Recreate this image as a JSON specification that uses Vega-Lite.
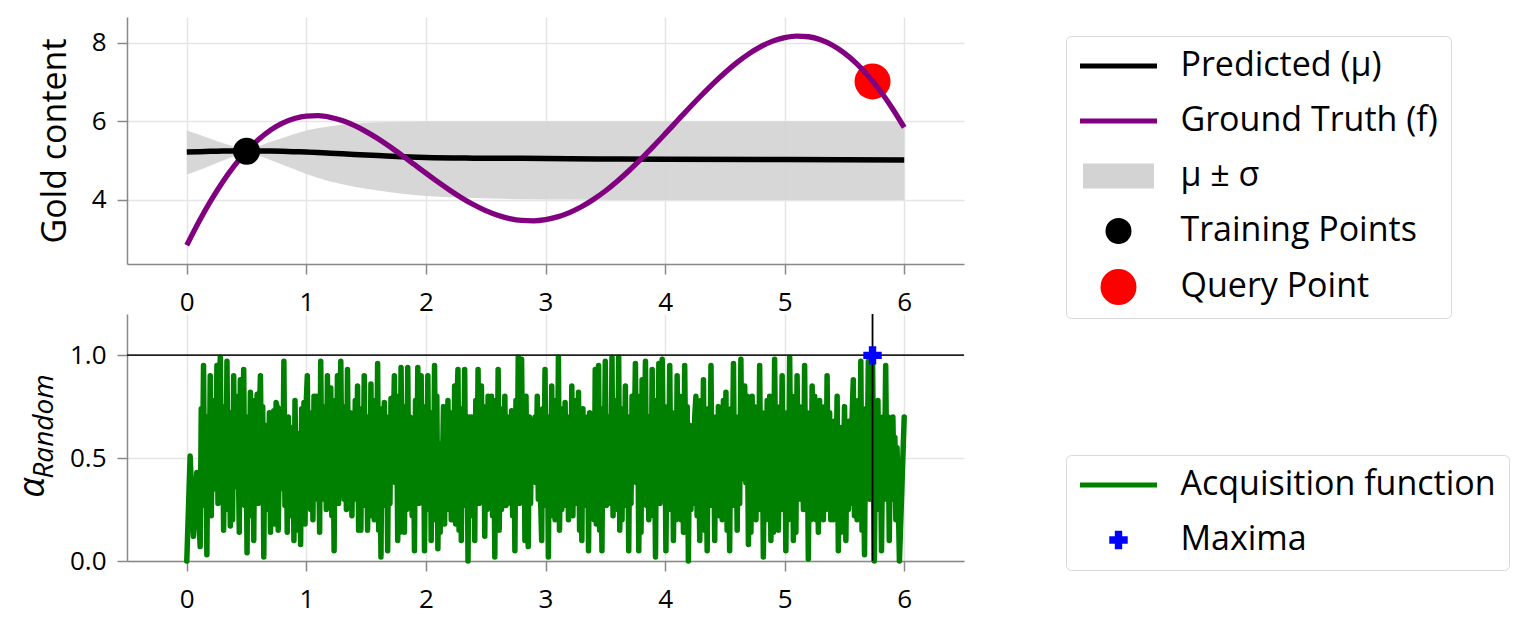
{
  "$schema": "https://vega.github.io/schema/vega-lite/v6.json",
  "background": "white",
  "padding": {"left": 14, "top": 17, "right": 5, "bottom": 5},
  "config": {
    "font": "Open Sans",
    "view": {"stroke": null},
    "axis": {"labelFontSize": 26, "labelColor": "black", "labelFont": "Open Sans", "domainColor": "#888888", "domainWidth": 1.5, "tickColor": "#888888", "tickWidth": 1.5, "tickSize": 10, "gridColor": "#e5e5e5", "gridWidth": 1.5, "titleColor": "black", "titleFontWeight": "normal", "titleFont": "Open Sans", "labelFlush": false, "labelOverlap": false},
    "axisX": {"labelPadding": 15},
    "axisY": {"labelPadding": 11},
    "legend": {"labelFontSize": 34, "labelFont": "Open Sans", "labelColor": "black", "labelLimit": 600, "strokeColor": "#d9d9d9", "fillColor": "white", "cornerRadius": 5, "padding": 13, "rowPadding": 21, "symbolSize": 676, "symbolStrokeWidth": 0, "symbolOffset": 22.5, "labelOffset": 45}
  },
  "datasets": {
    "gt": [{"x":0,"f":2.847},{"x":0.1,"f":3.438},{"x":0.2,"f":3.976},{"x":0.3,"f":4.458},{"x":0.4,"f":4.881},{"x":0.5,"f":5.242},{"x":0.6,"f":5.542},{"x":0.7,"f":5.78},{"x":0.8,"f":5.957},{"x":0.9,"f":6.075},{"x":1,"f":6.137},{"x":1.1,"f":6.146},{"x":1.2,"f":6.106},{"x":1.3,"f":6.022},{"x":1.4,"f":5.899},{"x":1.5,"f":5.742},{"x":1.6,"f":5.559},{"x":1.7,"f":5.355},{"x":1.8,"f":5.137},{"x":1.9,"f":4.911},{"x":2,"f":4.683},{"x":2.1,"f":4.46},{"x":2.2,"f":4.248},{"x":2.3,"f":4.052},{"x":2.4,"f":3.878},{"x":2.5,"f":3.729},{"x":2.6,"f":3.612},{"x":2.7,"f":3.527},{"x":2.8,"f":3.479},{"x":2.9,"f":3.47},{"x":3,"f":3.5},{"x":3.1,"f":3.57},{"x":3.2,"f":3.679},{"x":3.3,"f":3.827},{"x":3.4,"f":4.012},{"x":3.5,"f":4.229},{"x":3.6,"f":4.478},{"x":3.7,"f":4.752},{"x":3.8,"f":5.048},{"x":3.9,"f":5.36},{"x":4,"f":5.683},{"x":4.1,"f":6.011},{"x":4.2,"f":6.337},{"x":4.3,"f":6.655},{"x":4.4,"f":6.959},{"x":4.5,"f":7.242},{"x":4.6,"f":7.499},{"x":4.7,"f":7.722},{"x":4.8,"f":7.906},{"x":4.9,"f":8.046},{"x":5,"f":8.137},{"x":5.1,"f":8.175},{"x":5.2,"f":8.157},{"x":5.3,"f":8.08},{"x":5.4,"f":7.942},{"x":5.5,"f":7.742},{"x":5.6,"f":7.481},{"x":5.7,"f":7.158},{"x":5.8,"f":6.776},{"x":5.9,"f":6.338},{"x":6,"f":5.847}],
    "gp": [{"x":0,"mu":5.22,"lo":4.65,"hi":5.77},{"x":0.1,"mu":5.23,"lo":4.76,"hi":5.67},{"x":0.2,"mu":5.24,"lo":4.88,"hi":5.56},{"x":0.3,"mu":5.245,"lo":5.0,"hi":5.45},{"x":0.4,"mu":5.25,"lo":5.12,"hi":5.35},{"x":0.5,"mu":5.25,"lo":5.24,"hi":5.26},{"x":0.6,"mu":5.25,"lo":5.13,"hi":5.37},{"x":0.7,"mu":5.245,"lo":5.02,"hi":5.48},{"x":0.8,"mu":5.24,"lo":4.9,"hi":5.58},{"x":0.9,"mu":5.23,"lo":4.78,"hi":5.68},{"x":1,"mu":5.22,"lo":4.66,"hi":5.77},{"x":1.2,"mu":5.19,"lo":4.47,"hi":5.88},{"x":1.4,"mu":5.16,"lo":4.34,"hi":5.95},{"x":1.6,"mu":5.13,"lo":4.24,"hi":5.98},{"x":1.8,"mu":5.1,"lo":4.16,"hi":5.99},{"x":2,"mu":5.08,"lo":4.1,"hi":6.0},{"x":2.4,"mu":5.065,"lo":4.05,"hi":6.0},{"x":2.8,"mu":5.06,"lo":4.02,"hi":6.0},{"x":3.2,"mu":5.05,"lo":4.01,"hi":6.0},{"x":3.6,"mu":5.045,"lo":4.0,"hi":6.0},{"x":4,"mu":5.04,"lo":4.0,"hi":6.0},{"x":5,"mu":5.03,"lo":4.0,"hi":6.0},{"x":6,"mu":5.02,"lo":4.0,"hi":6.0}],
    "tp": [{"x":0.5,"y":5.242}],
    "qp": [{"x":5.735,"y":7.02}],
    "mx": [{"x":5.735,"a":0.999}],
    "lines": [{"x":5.735,"y":1}],
    "acq": [
{"x":0,"a":0.0},{"x":0.028,"a":0.51},{"x":0.056,"a":0.12},{"x":0.084,"a":0.43},{"x":0.112,"a":0.07},{"x":0.121,"a":0.74},{"x":0.131,"a":0.4},
{"x":0.14,"a":0.95},{"x":0.149,"a":0.27},{"x":0.159,"a":0.68},
{"x":0.168,"a":0.03},{"x":0.177,"a":0.7},{"x":0.187,"a":0.28},
{"x":0.196,"a":0.9},{"x":0.205,"a":0.22},{"x":0.215,"a":0.65},
{"x":0.224,"a":0.38},{"x":0.233,"a":0.78},{"x":0.243,"a":0.35},
{"x":0.252,"a":0.95},{"x":0.261,"a":0.28},{"x":0.271,"a":0.7},
{"x":0.28,"a":0.99},{"x":0.289,"a":0.42},{"x":0.299,"a":0.75},
{"x":0.308,"a":0.15},{"x":0.317,"a":0.66},{"x":0.327,"a":0.25},
{"x":0.336,"a":0.97},{"x":0.345,"a":0.3},{"x":0.355,"a":0.72},
{"x":0.364,"a":0.17},{"x":0.373,"a":0.62},{"x":0.383,"a":0.2},
{"x":0.392,"a":0.9},{"x":0.401,"a":0.38},{"x":0.411,"a":0.8},
{"x":0.42,"a":0.36},{"x":0.429,"a":0.57},{"x":0.439,"a":0.14},
{"x":0.448,"a":0.88},{"x":0.457,"a":0.4},{"x":0.467,"a":0.62},
{"x":0.476,"a":0.93},{"x":0.485,"a":0.27},{"x":0.495,"a":0.68},
{"x":0.504,"a":0.04},{"x":0.513,"a":0.7},{"x":0.523,"a":0.28},
{"x":0.532,"a":0.82},{"x":0.541,"a":0.22},{"x":0.551,"a":0.65},
{"x":0.56,"a":0.1},{"x":0.569,"a":0.78},{"x":0.579,"a":0.35},
{"x":0.588,"a":0.81},{"x":0.597,"a":0.28},{"x":0.607,"a":0.7},
{"x":0.616,"a":0.9},{"x":0.625,"a":0.42},{"x":0.635,"a":0.75},
{"x":0.644,"a":0.02},{"x":0.653,"a":0.66},{"x":0.663,"a":0.25},
{"x":0.672,"a":0.55},{"x":0.681,"a":0.3},{"x":0.691,"a":0.72},
{"x":0.7,"a":0.14},{"x":0.709,"a":0.62},{"x":0.719,"a":0.2},
{"x":0.728,"a":0.73},{"x":0.737,"a":0.18},{"x":0.747,"a":0.77},
{"x":0.756,"a":0.75},{"x":0.765,"a":0.15},{"x":0.775,"a":0.58},
{"x":0.784,"a":0.35},{"x":0.793,"a":0.74},{"x":0.803,"a":0.4},
{"x":0.812,"a":0.97},{"x":0.821,"a":0.27},{"x":0.831,"a":0.68},
{"x":0.84,"a":0.14},{"x":0.849,"a":0.7},{"x":0.859,"a":0.28},
{"x":0.868,"a":0.6},{"x":0.877,"a":0.22},{"x":0.887,"a":0.65},
{"x":0.896,"a":0.1},{"x":0.905,"a":0.78},{"x":0.915,"a":0.35},
{"x":0.924,"a":0.62},{"x":0.933,"a":0.15},{"x":0.943,"a":0.58},
{"x":0.952,"a":0.08},{"x":0.961,"a":0.74},{"x":0.971,"a":0.4},
{"x":0.98,"a":0.77},{"x":0.989,"a":0.18},{"x":0.999,"a":0.77},
{"x":1.008,"a":0.9},{"x":1.017,"a":0.3},{"x":1.027,"a":0.72},
{"x":1.036,"a":0.25},{"x":1.045,"a":0.62},{"x":1.055,"a":0.2},
{"x":1.064,"a":0.8},{"x":1.073,"a":0.38},{"x":1.083,"a":0.8},
{"x":1.092,"a":0.3},{"x":1.101,"a":0.57},{"x":1.111,"a":0.14},
{"x":1.12,"a":0.97},{"x":1.129,"a":0.42},{"x":1.139,"a":0.75},
{"x":1.148,"a":0.3},{"x":1.157,"a":0.66},{"x":1.167,"a":0.25},
{"x":1.176,"a":0.9},{"x":1.185,"a":0.28},{"x":1.195,"a":0.7},
{"x":1.204,"a":0.84},{"x":1.213,"a":0.22},{"x":1.223,"a":0.65},
{"x":1.232,"a":0.05},{"x":1.241,"a":0.78},{"x":1.251,"a":0.35},
{"x":1.26,"a":0.9},{"x":1.269,"a":0.28},{"x":1.279,"a":0.7},
{"x":1.288,"a":0.97},{"x":1.297,"a":0.42},{"x":1.307,"a":0.75},
{"x":1.316,"a":0.3},{"x":1.325,"a":0.66},{"x":1.335,"a":0.25},
{"x":1.344,"a":0.93},{"x":1.353,"a":0.28},{"x":1.363,"a":0.7},
{"x":1.372,"a":0.72},{"x":1.381,"a":0.22},{"x":1.391,"a":0.65},
{"x":1.4,"a":0.3},{"x":1.409,"a":0.78},{"x":1.419,"a":0.35},
{"x":1.428,"a":0.85},{"x":1.437,"a":0.15},{"x":1.447,"a":0.58},
{"x":1.456,"a":0.15},{"x":1.465,"a":0.74},{"x":1.475,"a":0.4},
{"x":1.484,"a":0.9},{"x":1.493,"a":0.27},{"x":1.503,"a":0.68},
{"x":1.512,"a":0.15},{"x":1.521,"a":0.7},{"x":1.531,"a":0.28},
{"x":1.54,"a":0.86},{"x":1.549,"a":0.22},{"x":1.559,"a":0.65},
{"x":1.568,"a":0.2},{"x":1.577,"a":0.78},{"x":1.587,"a":0.35},
{"x":1.596,"a":0.96},{"x":1.605,"a":0.15},{"x":1.615,"a":0.58},
{"x":1.624,"a":0.02},{"x":1.633,"a":0.74},{"x":1.643,"a":0.4},
{"x":1.652,"a":0.77},{"x":1.661,"a":0.27},{"x":1.671,"a":0.68},
{"x":1.68,"a":0.05},{"x":1.689,"a":0.7},{"x":1.699,"a":0.28},
{"x":1.708,"a":0.79},{"x":1.717,"a":0.4},{"x":1.727,"a":0.62},
{"x":1.736,"a":0.9},{"x":1.745,"a":0.38},{"x":1.755,"a":0.8},
{"x":1.764,"a":0.1},{"x":1.773,"a":0.57},{"x":1.783,"a":0.14},
{"x":1.792,"a":0.94},{"x":1.801,"a":0.42},{"x":1.811,"a":0.75},
{"x":1.82,"a":0.14},{"x":1.829,"a":0.66},{"x":1.839,"a":0.25},
{"x":1.848,"a":0.94},{"x":1.857,"a":0.28},{"x":1.867,"a":0.7},
{"x":1.876,"a":0.6},{"x":1.885,"a":0.22},{"x":1.895,"a":0.65},
{"x":1.904,"a":0.05},{"x":1.913,"a":0.78},{"x":1.923,"a":0.35},
{"x":1.932,"a":0.94},{"x":1.941,"a":0.28},{"x":1.951,"a":0.7},
{"x":1.96,"a":0.9},{"x":1.969,"a":0.42},{"x":1.979,"a":0.75},
{"x":1.988,"a":0.05},{"x":1.997,"a":0.66},{"x":2.007,"a":0.25},
{"x":2.016,"a":0.9},{"x":2.025,"a":0.3},{"x":2.035,"a":0.72},
{"x":2.044,"a":0.1},{"x":2.053,"a":0.62},{"x":2.063,"a":0.2},
{"x":2.072,"a":0.95},{"x":2.081,"a":0.38},{"x":2.091,"a":0.8},
{"x":2.1,"a":0.06},{"x":2.109,"a":0.57},{"x":2.119,"a":0.14},
{"x":2.128,"a":0.55},{"x":2.137,"a":0.42},{"x":2.147,"a":0.75},
{"x":2.156,"a":0.18},{"x":2.165,"a":0.66},{"x":2.175,"a":0.25},
{"x":2.184,"a":0.78},{"x":2.193,"a":0.3},{"x":2.203,"a":0.72},
{"x":2.212,"a":0.2},{"x":2.221,"a":0.62},{"x":2.231,"a":0.2},
{"x":2.24,"a":0.85},{"x":2.249,"a":0.18},{"x":2.259,"a":0.77},
{"x":2.268,"a":0.93},{"x":2.277,"a":0.15},{"x":2.287,"a":0.58},
{"x":2.296,"a":0.1},{"x":2.305,"a":0.74},{"x":2.315,"a":0.4},
{"x":2.324,"a":0.93},{"x":2.333,"a":0.27},{"x":2.343,"a":0.68},
{"x":2.352,"a":0.0},{"x":2.361,"a":0.7},{"x":2.371,"a":0.28},
{"x":2.38,"a":0.7},{"x":2.389,"a":0.22},{"x":2.399,"a":0.65},
{"x":2.408,"a":0.1},{"x":2.417,"a":0.78},{"x":2.427,"a":0.35},
{"x":2.436,"a":0.93},{"x":2.445,"a":0.28},{"x":2.455,"a":0.7},
{"x":2.464,"a":0.85},{"x":2.473,"a":0.42},{"x":2.483,"a":0.75},
{"x":2.492,"a":0.12},{"x":2.501,"a":0.66},{"x":2.511,"a":0.25},
{"x":2.52,"a":0.8},{"x":2.529,"a":0.28},{"x":2.539,"a":0.7},
{"x":2.548,"a":0.8},{"x":2.557,"a":0.22},{"x":2.567,"a":0.65},
{"x":2.576,"a":0.02},{"x":2.585,"a":0.78},{"x":2.595,"a":0.35},
{"x":2.604,"a":0.93},{"x":2.613,"a":0.15},{"x":2.623,"a":0.58},
{"x":2.632,"a":0.25},{"x":2.641,"a":0.74},{"x":2.651,"a":0.4},
{"x":2.66,"a":0.8},{"x":2.669,"a":0.27},{"x":2.679,"a":0.68},
{"x":2.688,"a":0.3},{"x":2.697,"a":0.7},{"x":2.707,"a":0.28},
{"x":2.716,"a":0.73},{"x":2.725,"a":0.22},{"x":2.735,"a":0.65},
{"x":2.744,"a":0.05},{"x":2.753,"a":0.78},{"x":2.763,"a":0.35},
{"x":2.772,"a":0.99},{"x":2.781,"a":0.28},{"x":2.791,"a":0.7},
{"x":2.8,"a":0.98},{"x":2.809,"a":0.42},{"x":2.819,"a":0.75},
{"x":2.828,"a":0.1},{"x":2.837,"a":0.8},{"x":2.847,"a":0.22},
{"x":2.856,"a":0.07},{"x":2.865,"a":0.7},{"x":2.875,"a":0.28},
{"x":2.884,"a":0.65},{"x":2.893,"a":0.4},{"x":2.903,"a":0.62},
{"x":2.912,"a":0.7},{"x":2.921,"a":0.38},{"x":2.931,"a":0.8},
{"x":2.94,"a":0.3},{"x":2.949,"a":0.72},{"x":2.959,"a":0.3},
{"x":2.968,"a":0.1},{"x":2.977,"a":0.74},{"x":2.987,"a":0.4},
{"x":2.996,"a":0.93},{"x":3.005,"a":0.27},{"x":3.015,"a":0.68},
{"x":3.024,"a":0.02},{"x":3.033,"a":0.7},{"x":3.043,"a":0.28},
{"x":3.052,"a":0.85},{"x":3.061,"a":0.22},{"x":3.071,"a":0.65},
{"x":3.08,"a":0.2},{"x":3.089,"a":0.78},{"x":3.099,"a":0.35},
{"x":3.108,"a":0.99},{"x":3.117,"a":0.15},{"x":3.127,"a":0.58},
{"x":3.136,"a":0.25},{"x":3.145,"a":0.74},{"x":3.155,"a":0.4},
{"x":3.164,"a":0.77},{"x":3.173,"a":0.27},{"x":3.183,"a":0.68},
{"x":3.192,"a":0.2},{"x":3.201,"a":0.7},{"x":3.211,"a":0.28},
{"x":3.22,"a":0.85},{"x":3.229,"a":0.22},{"x":3.239,"a":0.65},
{"x":3.248,"a":0.28},{"x":3.257,"a":0.78},{"x":3.267,"a":0.35},
{"x":3.276,"a":0.82},{"x":3.285,"a":0.15},{"x":3.295,"a":0.58},
{"x":3.304,"a":0.1},{"x":3.313,"a":0.74},{"x":3.323,"a":0.4},
{"x":3.332,"a":0.7},{"x":3.341,"a":0.27},{"x":3.351,"a":0.68},
{"x":3.36,"a":0.05},{"x":3.369,"a":0.72},{"x":3.379,"a":0.3},
{"x":3.388,"a":0.37},{"x":3.397,"a":0.62},{"x":3.407,"a":0.2},
{"x":3.416,"a":0.93},{"x":3.425,"a":0.18},{"x":3.435,"a":0.77},
{"x":3.444,"a":0.95},{"x":3.453,"a":0.15},{"x":3.463,"a":0.58},
{"x":3.472,"a":0.05},{"x":3.481,"a":0.74},{"x":3.491,"a":0.4},
{"x":3.5,"a":0.97},{"x":3.509,"a":0.27},{"x":3.519,"a":0.68},
{"x":3.528,"a":0.35},{"x":3.537,"a":0.7},{"x":3.547,"a":0.28},
{"x":3.556,"a":0.99},{"x":3.565,"a":0.22},{"x":3.575,"a":0.65},
{"x":3.584,"a":0.25},{"x":3.593,"a":0.78},{"x":3.603,"a":0.35},
{"x":3.612,"a":0.99},{"x":3.621,"a":0.15},{"x":3.631,"a":0.58},
{"x":3.64,"a":0.2},{"x":3.649,"a":0.74},{"x":3.659,"a":0.4},
{"x":3.668,"a":0.85},{"x":3.677,"a":0.27},{"x":3.687,"a":0.68},
{"x":3.696,"a":0.05},{"x":3.705,"a":0.7},{"x":3.715,"a":0.28},
{"x":3.724,"a":0.8},{"x":3.733,"a":0.4},{"x":3.743,"a":0.62},
{"x":3.752,"a":0.96},{"x":3.761,"a":0.38},{"x":3.771,"a":0.8},
{"x":3.78,"a":0.05},{"x":3.789,"a":0.57},{"x":3.799,"a":0.14},
{"x":3.808,"a":0.88},{"x":3.817,"a":0.4},{"x":3.827,"a":0.62},
{"x":3.836,"a":0.97},{"x":3.845,"a":0.27},{"x":3.855,"a":0.68},
{"x":3.864,"a":0.2},{"x":3.873,"a":0.7},{"x":3.883,"a":0.28},
{"x":3.892,"a":0.93},{"x":3.901,"a":0.22},{"x":3.911,"a":0.65},
{"x":3.92,"a":0.02},{"x":3.929,"a":0.78},{"x":3.939,"a":0.35},
{"x":3.948,"a":0.96},{"x":3.957,"a":0.28},{"x":3.967,"a":0.7},
{"x":3.976,"a":0.98},{"x":3.986,"a":0.42},{"x":3.997,"a":0.75},
{"x":4.007,"a":0.05},{"x":4.017,"a":0.66},{"x":4.028,"a":0.25},
{"x":4.039,"a":0.95},{"x":4.049,"a":0.3},{"x":4.06,"a":0.72},
{"x":4.07,"a":0.1},{"x":4.08,"a":0.62},{"x":4.091,"a":0.2},
{"x":4.101,"a":0.9},{"x":4.111,"a":0.38},{"x":4.122,"a":0.8},
{"x":4.133,"a":0.2},{"x":4.143,"a":0.57},{"x":4.154,"a":0.14},
{"x":4.164,"a":0.95},{"x":4.174,"a":0.42},{"x":4.185,"a":0.75},
{"x":4.195,"a":0.0},{"x":4.205,"a":0.66},{"x":4.216,"a":0.25},
{"x":4.227,"a":0.6},{"x":4.237,"a":0.28},{"x":4.248,"a":0.7},
{"x":4.258,"a":0.8},{"x":4.268,"a":0.22},{"x":4.279,"a":0.65},
{"x":4.29,"a":0.1},{"x":4.3,"a":0.78},{"x":4.311,"a":0.35},
{"x":4.321,"a":0.88},{"x":4.331,"a":0.15},{"x":4.342,"a":0.58},
{"x":4.352,"a":0.05},{"x":4.362,"a":0.74},{"x":4.373,"a":0.4},
{"x":4.384,"a":0.95},{"x":4.394,"a":0.27},{"x":4.405,"a":0.68},
{"x":4.415,"a":0.1},{"x":4.425,"a":0.7},{"x":4.436,"a":0.28},
{"x":4.446,"a":0.75},{"x":4.456,"a":0.22},{"x":4.467,"a":0.65},
{"x":4.478,"a":0.2},{"x":4.488,"a":0.78},{"x":4.499,"a":0.35},
{"x":4.509,"a":0.82},{"x":4.519,"a":0.15},{"x":4.53,"a":0.58},
{"x":4.54,"a":0.05},{"x":4.55,"a":0.74},{"x":4.561,"a":0.4},
{"x":4.572,"a":0.96},{"x":4.582,"a":0.27},{"x":4.593,"a":0.68},
{"x":4.603,"a":0.15},{"x":4.613,"a":0.7},{"x":4.624,"a":0.28},
{"x":4.634,"a":0.98},{"x":4.644,"a":0.4},{"x":4.655,"a":0.62},
{"x":4.666,"a":0.85},{"x":4.676,"a":0.38},{"x":4.687,"a":0.8},
{"x":4.697,"a":0.08},{"x":4.707,"a":0.57},{"x":4.718,"a":0.14},
{"x":4.728,"a":0.8},{"x":4.738,"a":0.42},{"x":4.749,"a":0.75},
{"x":4.76,"a":0.2},{"x":4.77,"a":0.66},{"x":4.781,"a":0.25},
{"x":4.791,"a":0.95},{"x":4.801,"a":0.3},{"x":4.812,"a":0.72},
{"x":4.822,"a":0.02},{"x":4.832,"a":0.62},{"x":4.843,"a":0.2},
{"x":4.854,"a":0.78},{"x":4.864,"a":0.38},{"x":4.875,"a":0.8},
{"x":4.885,"a":0.1},{"x":4.895,"a":0.57},{"x":4.906,"a":0.14},
{"x":4.916,"a":0.98},{"x":4.926,"a":0.42},{"x":4.937,"a":0.75},
{"x":4.948,"a":0.15},{"x":4.958,"a":0.66},{"x":4.969,"a":0.25},
{"x":4.979,"a":0.9},{"x":4.989,"a":0.3},{"x":5.0,"a":0.72},
{"x":5.01,"a":0.05},{"x":5.02,"a":0.62},{"x":5.031,"a":0.2},
{"x":5.042,"a":0.99},{"x":5.052,"a":0.38},{"x":5.063,"a":0.8},
{"x":5.073,"a":0.1},{"x":5.083,"a":0.57},{"x":5.094,"a":0.14},
{"x":5.104,"a":0.9},{"x":5.114,"a":0.42},{"x":5.125,"a":0.75},
{"x":5.136,"a":0.3},{"x":5.146,"a":0.66},{"x":5.157,"a":0.25},
{"x":5.167,"a":0.95},{"x":5.177,"a":0.3},{"x":5.188,"a":0.72},
{"x":5.198,"a":0.01},{"x":5.208,"a":0.62},{"x":5.219,"a":0.2},
{"x":5.23,"a":0.85},{"x":5.24,"a":0.38},{"x":5.251,"a":0.8},
{"x":5.261,"a":0.2},{"x":5.271,"a":0.57},{"x":5.282,"a":0.14},
{"x":5.292,"a":0.78},{"x":5.302,"a":0.42},{"x":5.313,"a":0.75},
{"x":5.324,"a":0.2},{"x":5.334,"a":0.66},{"x":5.345,"a":0.25},
{"x":5.355,"a":0.9},{"x":5.365,"a":0.3},{"x":5.376,"a":0.72},
{"x":5.386,"a":0.2},{"x":5.396,"a":0.62},{"x":5.407,"a":0.2},
{"x":5.418,"a":0.68},{"x":5.428,"a":0.38},{"x":5.439,"a":0.8},
{"x":5.449,"a":0.05},{"x":5.459,"a":0.57},{"x":5.47,"a":0.14},
{"x":5.48,"a":0.65},{"x":5.49,"a":0.42},{"x":5.501,"a":0.75},
{"x":5.512,"a":0.1},{"x":5.522,"a":0.66},{"x":5.533,"a":0.25},
{"x":5.543,"a":0.68},{"x":5.553,"a":0.28},{"x":5.564,"a":0.7},
{"x":5.574,"a":0.88},{"x":5.584,"a":0.22},{"x":5.595,"a":0.65},
{"x":5.606,"a":0.2},{"x":5.616,"a":0.78},{"x":5.627,"a":0.35},
{"x":5.637,"a":0.97},{"x":5.647,"a":0.15},{"x":5.658,"a":0.58},
{"x":5.668,"a":0.03},{"x":5.678,"a":0.74},{"x":5.689,"a":0.4},
{"x":5.7,"a":0.97},{"x":5.712,"a":0.3},{"x":5.724,"a":0.75},
{"x":5.735,"a":0.999},{"x":5.75,"a":0.0},{"x":5.76,"a":0.6},{"x":5.77,"a":0.25},
{"x":5.78,"a":0.78},{"x":5.79,"a":0.3},{"x":5.8,"a":0.65},
{"x":5.81,"a":0.05},{"x":5.822,"a":0.7},{"x":5.833,"a":0.3},
{"x":5.845,"a":0.95},{"x":5.855,"a":0.35},{"x":5.865,"a":0.7},
{"x":5.875,"a":0.1},{"x":5.885,"a":0.6},{"x":5.895,"a":0.3},
{"x":5.905,"a":0.7},{"x":5.913,"a":0.45},{"x":5.922,"a":0.6},
{"x":5.93,"a":0.2},{"x":5.94,"a":0.55},{"x":5.95,"a":0.3},
{"x":5.96,"a":0.0},{"x":6,"a":0.7}]
  },
  "spacing": 50,
  "bounds": "flush",
  "resolve": {"scale": {"color": "independent", "x": "independent", "y": "independent"}, "legend": {"color": "independent"}},
  "vconcat": [
    {
      "width": 837, "height": 247,
      "layer": [
        {"data": {"name": "gp"}, "mark": {"type": "area", "interpolate": "monotone", "fillOpacity": 0.9},
         "encoding": {
           "x": {"field": "x", "type": "quantitative", "title": null, "scale": {"domain": [-0.5, 6.5], "nice": false, "zero": false}, "axis": {"values": [0,1,2,3,4,5,6], "format": "d"}},
           "y": {"field": "lo", "type": "quantitative", "title": "Gold content", "scale": {"domain": [2.37, 8.66], "nice": false, "zero": false}, "axis": {"values": [4,6,8], "format": "d", "titleFontSize": 34, "titlePadding": 19}},
           "y2": {"field": "hi"},
           "color": {"datum": "μ ± σ", "scale": {"domain": ["Predicted (μ)", "Ground Truth (f)", "μ ± σ", "Training Points", "Query Point"], "range": ["black", "purple", "#d3d3d3", "black", "red"]},
             "legend": {"title": null, "orient": "none", "legendX": 939, "legendY": 19,
               "encode": {"symbols": {"update": {
                 "shape": {"signal": "datum.value === 'μ ± σ' ? 'M-1,-0.352H1V0.352H-1Z' : (datum.value === 'Training Points' || datum.value === 'Query Point') ? 'circle' : 'stroke'"},
                 "size": {"signal": "datum.value === 'μ ± σ' ? 5041 : datum.value === 'Training Points' ? 676 : datum.value === 'Query Point' ? 1296 : 5929"},
                 "fill": {"signal": "datum.value === 'μ ± σ' ? '#d6d6d6' : datum.value === 'Training Points' ? 'black' : datum.value === 'Query Point' ? 'red' : 'transparent'"},
                 "stroke": {"signal": "datum.value === 'Predicted (μ)' ? 'black' : datum.value === 'Ground Truth (f)' ? 'purple' : 'transparent'"},
                 "strokeWidth": {"signal": "(datum.value === 'Predicted (μ)' || datum.value === 'Ground Truth (f)') ? 5 : 0"},
                 "opacity": {"value": 1}
               }}}}}
         }},
        {"data": {"name": "gp"}, "mark": {"type": "line", "interpolate": "monotone", "strokeWidth": 5.5},
         "encoding": {
           "x": {"field": "x", "type": "quantitative", "title": null, "scale": {"domain": [-0.5, 6.5], "nice": false, "zero": false}},
           "y": {"field": "mu", "type": "quantitative", "title": "Gold content", "scale": {"domain": [2.37, 8.66], "nice": false, "zero": false}},
           "color": {"datum": "Predicted (μ)"}
         }},
        {"data": {"name": "qp"}, "mark": {"type": "point", "shape": "circle", "filled": true, "opacity": 1, "size": 1296},
         "encoding": {
           "x": {"field": "x", "type": "quantitative", "title": null, "scale": {"domain": [-0.5, 6.5], "nice": false, "zero": false}},
           "y": {"field": "y", "type": "quantitative", "title": "Gold content", "scale": {"domain": [2.37, 8.66], "nice": false, "zero": false}},
           "color": {"datum": "Query Point"}
         }},
        {"data": {"name": "gt"}, "mark": {"type": "line", "interpolate": "monotone", "strokeWidth": 5.3},
         "encoding": {
           "x": {"field": "x", "type": "quantitative", "title": null, "scale": {"domain": [-0.5, 6.5], "nice": false, "zero": false}},
           "y": {"field": "f", "type": "quantitative", "title": "Gold content", "scale": {"domain": [2.37, 8.66], "nice": false, "zero": false}},
           "color": {"datum": "Ground Truth (f)"}
         }},
        {"data": {"name": "tp"}, "mark": {"type": "point", "shape": "circle", "filled": true, "opacity": 1, "size": 729},
         "encoding": {
           "x": {"field": "x", "type": "quantitative", "title": null, "scale": {"domain": [-0.5, 6.5], "nice": false, "zero": false}},
           "y": {"field": "y", "type": "quantitative", "title": "Gold content", "scale": {"domain": [2.37, 8.66], "nice": false, "zero": false}},
           "color": {"datum": "Training Points"}
         }}
      ]
    },
    {
      "width": 837, "height": 247,
      "resolve": {"axis": {"y": "independent"}},
      "layer": [
        {"data": {"name": "acq"}, "mark": {"type": "line", "strokeWidth": 5.5, "strokeJoin": "round", "strokeCap": "round"},
         "encoding": {
           "x": {"field": "x", "type": "quantitative", "title": null, "scale": {"domain": [-0.5, 6.5], "nice": false, "zero": false}, "axis": {"values": [0,1,2,3,4,5,6], "format": "d"}},
           "y": {"field": "a", "type": "quantitative", "title": "α", "scale": {"domain": [0, 1.2], "nice": false, "zero": false}, "axis": {"values": [0, 0.5, 1], "format": ".1f", "titleFontSize": 36, "titleFontStyle": "italic", "titleX": -84, "titleY": 173, "titleAngle": -90, "titleAlign": "center", "titleBaseline": "alphabetic"}},
           "color": {"datum": "Acquisition function", "scale": {"domain": ["Acquisition function", "Maxima"], "range": ["green", "blue"]},
             "legend": {"title": null, "orient": "none", "legendX": 939, "legendY": 141,
               "encode": {"symbols": {"update": {
                 "shape": {"signal": "datum.value === 'Maxima' ? 'cross' : 'stroke'"},
                 "size": {"signal": "datum.value === 'Maxima' ? 340 : 5929"},
                 "fill": {"signal": "datum.value === 'Maxima' ? 'blue' : 'transparent'"},
                 "stroke": {"signal": "datum.value === 'Maxima' ? 'transparent' : 'green'"},
                 "strokeWidth": {"signal": "datum.value === 'Maxima' ? 0 : 5"},
                 "opacity": {"value": 1}
               }}}}}
         }},
        {"data": {"name": "lines"}, "mark": {"type": "rule", "color": "#222222", "strokeWidth": 1.8},
         "encoding": {
           "y": {"field": "y", "type": "quantitative", "title": "Random", "scale": {"domain": [0, 1.2], "nice": false, "zero": false}, "axis": {"orient": "left", "labels": false, "ticks": false, "domain": false, "grid": false, "titleFontSize": 28, "titleFontStyle": "italic", "titleX": -75, "titleY": 112, "titleAngle": -90, "titleAlign": "center", "titleBaseline": "alphabetic"}}
         }},
        {"data": {"name": "lines"}, "mark": {"type": "rule", "color": "black", "strokeWidth": 1.8},
         "encoding": {
           "x": {"field": "x", "type": "quantitative", "title": null, "scale": {"domain": [-0.5, 6.5], "nice": false, "zero": false}}
         }},
        {"data": {"name": "mx"}, "mark": {"type": "point", "shape": "cross", "filled": true, "opacity": 1, "size": 340},
         "encoding": {
           "x": {"field": "x", "type": "quantitative", "title": null, "scale": {"domain": [-0.5, 6.5], "nice": false, "zero": false}},
           "y": {"field": "a", "type": "quantitative", "title": null, "scale": {"domain": [0, 1.2], "nice": false, "zero": false}, "axis": null},
           "color": {"datum": "Maxima"}
         }}
      ]
    }
  ]
}
